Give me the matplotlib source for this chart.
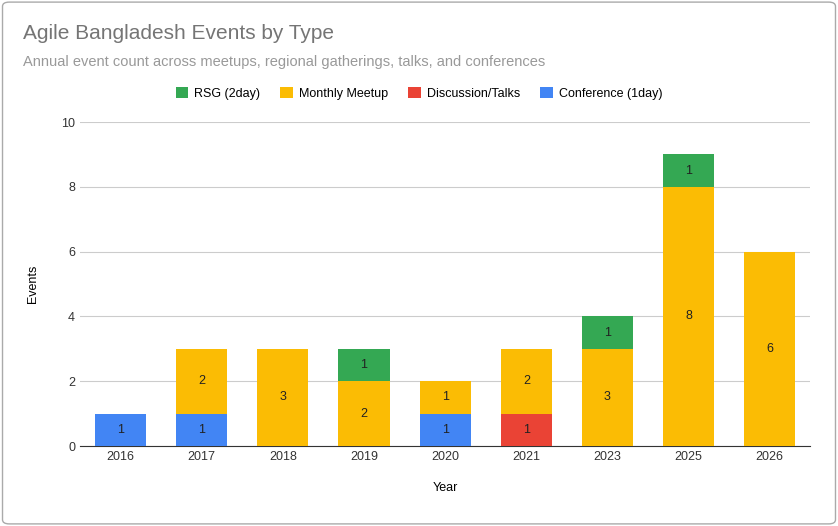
import matplotlib
matplotlib.use("Agg")
import matplotlib.pyplot as plt
from matplotlib.patches import FancyBboxPatch
import numpy as np

years = ["2016", "2017", "2018", "2019", "2020", "2021", "2023", "2025", "2026"]
conference = [1, 1, 0, 0, 1, 0, 0, 0, 0]
discussion = [0, 0, 0, 0, 0, 1, 0, 0, 0]
monthly = [0, 2, 3, 2, 1, 2, 3, 8, 6]
rsg = [0, 0, 0, 1, 0, 0, 1, 1, 0]

series = [
    ("Conference (1day)", conference, "#4285f4"),
    ("Discussion/Talks", discussion, "#ea4335"),
    ("Monthly Meetup", monthly, "#fbbc04"),
    ("RSG (2day)", rsg, "#34a853"),
]

plt.rcParams["font.family"] = ["Liberation Sans", "DejaVu Sans"]
fig = plt.figure(figsize=(8.38, 5.26), dpi=100)
fig.patches.append(FancyBboxPatch((0.003, 0.004), 0.994, 0.992, boxstyle="round,pad=0,rounding_size=0.008",
                                  transform=fig.transFigure, fill=False, edgecolor="#aaaaaa", linewidth=1))
ax = fig.add_axes([0.0955, 0.152, 0.8715, 0.616])

x = np.arange(len(years))
bottom = np.zeros(len(years))
handles = {}
for name, vals, color in series:
    vals = np.array(vals, dtype=float)
    bars = ax.bar(x, vals, 0.63, bottom=bottom, color=color, label=name, zorder=3)
    handles[name] = bars
    for xi, v, b in zip(x, vals, bottom):
        if v > 0:
            ax.text(xi, b + v / 2, f"{int(v)}", ha="center", va="center", fontsize=9, color="#222222", zorder=4)
    bottom += vals

ax.set_ylim(0, 10)
ax.set_yticks([0, 2, 4, 6, 8, 10])
ax.set_xlim(-0.5, len(years) - 0.5)
ax.set_xticks(x)
ax.set_xticklabels(years)
ax.grid(axis="y", color="#cccccc", linewidth=0.8, zorder=0)
for s in ["top", "right", "left"]:
    ax.spines[s].set_visible(False)
ax.spines["bottom"].set_color("#333333")
ax.tick_params(length=0, labelsize=9, colors="#333333")
ax.set_xlabel("Year", fontsize=9, labelpad=14)
ax.set_ylabel("Events", fontsize=9, labelpad=16)

order = ["RSG (2day)", "Monthly Meetup", "Discussion/Talks", "Conference (1day)"]
fig.legend([handles[n] for n in order], order, loc="center", bbox_to_anchor=(0.5, 0.823), ncol=4,
           frameon=False, fontsize=9, handlelength=1, handleheight=1, columnspacing=1.6, handletextpad=0.5)

fig.text(0.027, 0.925, "Agile Bangladesh Events by Type", fontsize=15, color="#757575")
fig.text(0.027, 0.874, "Annual event count across meetups, regional gatherings, talks, and conferences",
         fontsize=10.5, color="#999999")

fig.savefig("out.png", dpi=100)
